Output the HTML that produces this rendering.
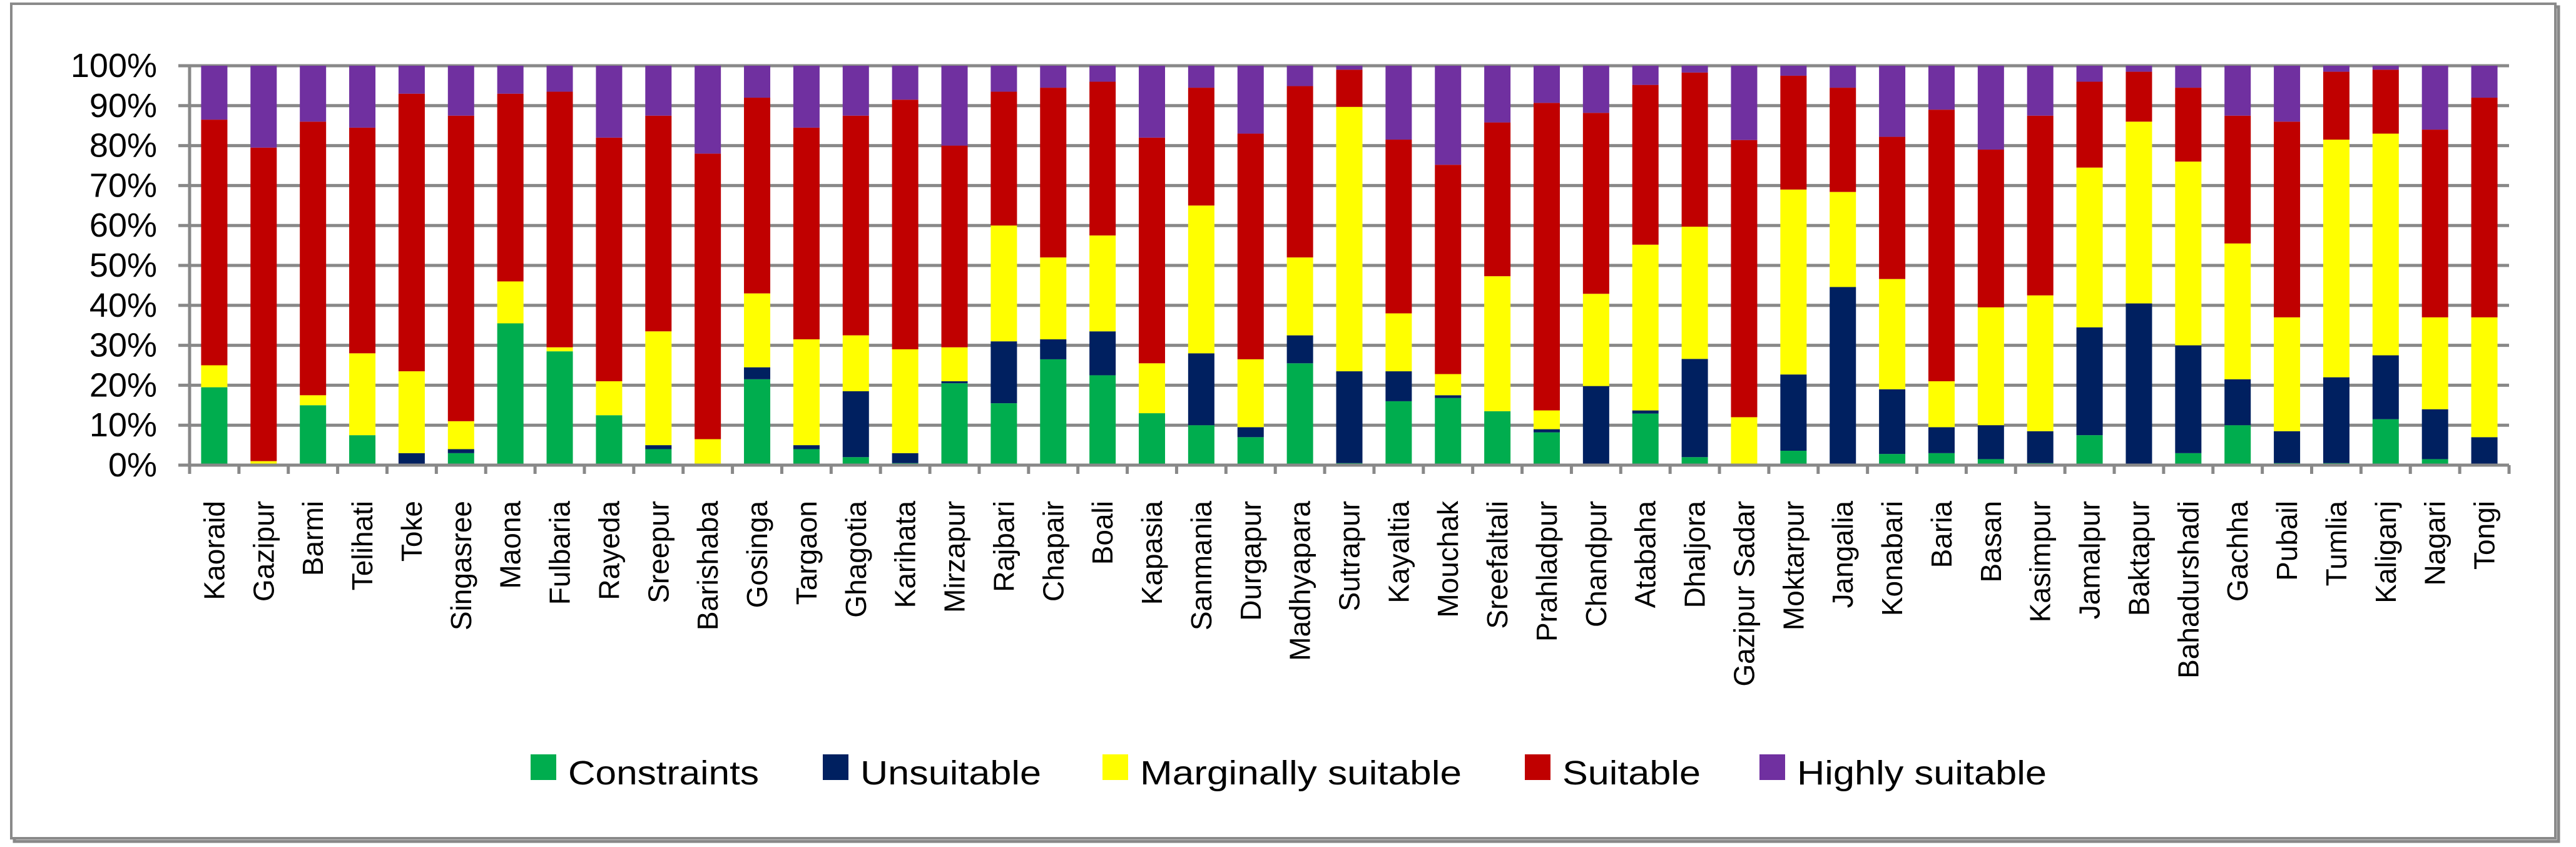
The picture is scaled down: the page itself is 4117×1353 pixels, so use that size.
<!DOCTYPE html>
<html><head><meta charset="utf-8"><style>
html,body{margin:0;padding:0;background:#fff;}
svg{display:block;font-family:"Liberation Sans",sans-serif;}
</style></head>
<body>
<svg id="chart" width="4117" height="1353" viewBox="0 0 4117 1353" xmlns="http://www.w3.org/2000/svg">
<rect x="23" y="11" width="4066" height="1333" fill="none" stroke="#888" stroke-width="5"/>
<rect x="18" y="6" width="4066" height="1333" fill="#fff" stroke="#8a8a8a" stroke-width="4"/>
<g id="grid"></g><g id="bars"></g><g id="axes"></g><g id="legend"></g>
</svg>
<script>
const categories = ["Kaoraid","Gazipur","Barmi","Telihati","Toke","Singasree","Maona","Fulbaria","Rayeda","Sreepur","Barishaba","Gosinga","Targaon","Ghagotia","Karihata","Mirzapur","Rajbari","Chapair","Boali","Kapasia","Sanmania","Durgapur","Madhyapara","Sutrapur","Kayaltia","Mouchak","Sreefaltali","Prahladpur","Chandpur","Atabaha","Dhaljora","Gazipur Sadar","Moktarpur","Jangalia","Konabari","Baria","Basan","Kasimpur","Jamalpur","Baktapur","Bahadurshadi","Gachha","Pubail","Tumlia","Kaliganj","Nagari","Tongi"];
const constraints = [19.5,0,15,7.5,0,3,35.5,28.5,12.5,4,0,21.5,4,2,0.5,20.5,15.5,26.5,22.5,13,10,7,25.5,0.5,16,16.8,13.5,8.2,0,12.9,2,0,3.6,0,2.8,3,1.5,0.5,7.5,0,3,10,0.5,0.5,11.5,1.5,0];
const unsuitable = [0,0,0,0,3,1,0,0,0,1,0,3,1,16.5,2.5,0.5,15.5,5,11,0,18,2.5,7,23,7.5,0.7,0,0.8,19.8,0.8,24.6,0,19.1,44.6,16.2,6.5,8.5,8,27,40.5,27,11.5,8,21.5,16,12.5,7];
const marginal = [5.5,1,2.5,20.5,20.5,7,10.5,1,8.5,28.5,6.5,18.5,26.5,14,26,8.5,29,20.5,24,12.5,37,17,19.5,66.2,14.5,5.3,33.8,4.7,23.1,41.5,33.1,12,46.3,23.8,27.6,11.5,29.5,34,40,45.5,46,34,28.5,59.5,55.5,23,30];
const suitable = [61.5,78.5,68.5,56.5,69.5,76.5,47,64,61,54,71.5,49,53,55,62.5,50.5,33.5,42.5,38.5,56.5,29.5,56.5,42.9,9.3,43.5,52.4,38.5,77,45.3,40,38.6,69.4,28.5,26.1,35.6,68,39.5,45,21.5,12.5,18.5,32,49,17,16,47,55];
const yTicks = ["0%","10%","20%","30%","40%","50%","60%","70%","80%","90%","100%"];
const seriesNames = ["Constraints","Unsuitable","Marginally suitable","Suitable","Highly suitable"];
const seriesColors = ["#00ad4e","#002060","#ffff00","#c00000","#7030a0"];

const NS="http://www.w3.org/2000/svg";
const X0=303, X1=4010, Y0=743, Y1=105;
const n=categories.length, step=(X1-X0)/n, bw=42;
const yS=v=>Y0-(v/100)*(Y0-Y1);
const xC=i=>X0+step*(i+0.5);
function mk(tag,attrs,parent){const e=document.createElementNS(NS,tag);for(const k in attrs)e.setAttribute(k,attrs[k]);parent.appendChild(e);return e;}
const grid=document.getElementById('grid'), bars=document.getElementById('bars'), axes=document.getElementById('axes'), legend=document.getElementById('legend');

yTicks.forEach((t,i)=>{
  const v=i*10, y=yS(v);
  const l=mk('line',{x1:X0-18,x2:X1,y1:y,y2:y,stroke:'#888','stroke-width':5},grid);
  
  
  const tx=mk('text',{x:X0-52,y:y+18,'text-anchor':'end','font-size':54,fill:'#000'},axes);
  tx.textContent=t;
  
  
});
const ya=mk('line',{x1:X0,x2:X0,y1:Y1-2,y2:Y0+2,stroke:'#888','stroke-width':5},axes);


for(let i=0;i<=n;i++){
  const x=X0+step*i;
  const t=mk('line',{x1:x,x2:x,y1:Y0,y2:Y0+14,stroke:'#888','stroke-width':5},axes);
  
  
}

categories.forEach((c,i)=>{
  const vals=[constraints[i],unsuitable[i],marginal[i],suitable[i]];
  const sum=vals.reduce((a,b)=>a+b,0);
  vals.push(Math.max(0,100-sum));
  let acc=0;
  const g=mk('g',{},bars);
  
  
  vals.forEach((v,s)=>{
    const yTop=yS(acc+v), yBot=yS(acc);
    const r=mk('rect',{x:xC(i)-bw/2,y:yTop,width:bw,height:Math.max(0,yBot-yTop),fill:seriesColors[s]},g);
    
    
    acc+=v;
  });
  const tx=mk('text',{x:0,y:0,'text-anchor':'end','font-size':46,fill:'#000',transform:`translate(${xC(i)+16},800) rotate(-90)`},axes);
  tx.textContent=c;
  
  
});
const xa=mk('line',{x1:X0-18,x2:X1,y1:Y0,y2:Y0,stroke:'#888','stroke-width':5},axes);



const legX=[848,1315,1762,2437,2812];
const legW=[305,289,514,221,399];
seriesNames.forEach((s,i)=>{
  const g=mk('g',{},legend);
  
  
  mk('rect',{x:legX[i],y:1205,width:41,height:41,fill:seriesColors[i]},g);
  const t=mk('text',{x:legX[i]+60,y:1253,'font-size':54,fill:'#000',textLength:legW[i],lengthAdjust:'spacingAndGlyphs'},g);
  t.textContent=s;
});
</script>
</body></html>
